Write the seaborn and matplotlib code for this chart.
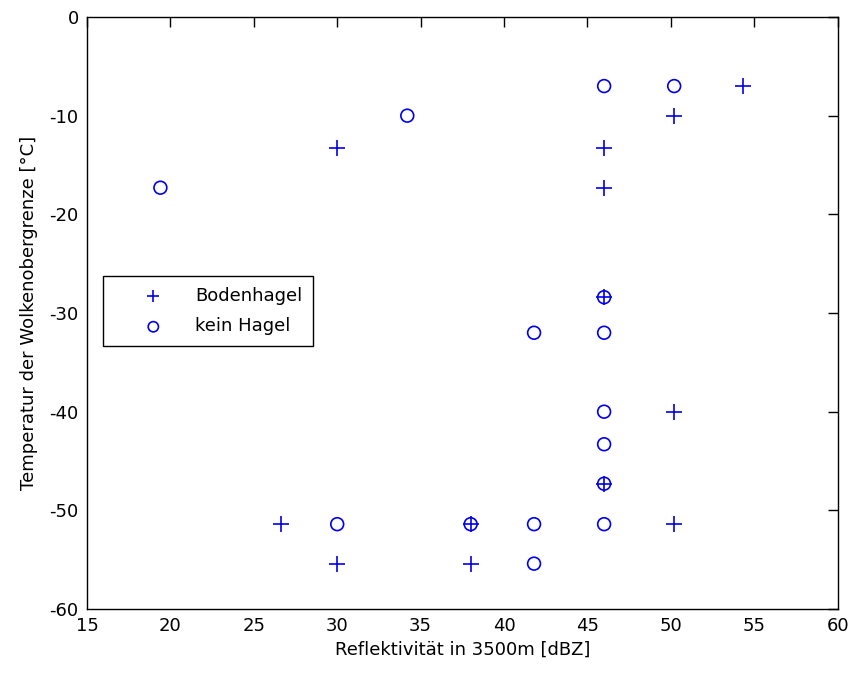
import numpy as np
import pandas as pd
import matplotlib
matplotlib.use("Agg")
import matplotlib.pyplot as plt
import seaborn as sns

# Bodenhagel (plus markers)
hagel_x = [54.3, 50.2, 30.0, 46.0, 46.0, 46.0, 50.2, 46.0, 26.6, 38.0, 50.2, 30.0, 38.0]
hagel_y = [-7.0, -10.0, -13.3, -13.3, -17.3, -28.4, -40.0, -47.3, -51.4, -51.4, -51.4, -55.4, -55.4]

# kein Hagel (circle markers)
kein_x = [46.0, 50.2, 34.2, 19.4, 46.0, 41.8, 46.0, 46.0, 46.0, 46.0, 30.0, 38.0, 41.8, 46.0, 41.8]
kein_y = [-7.0, -7.0, -10.0, -17.3, -28.4, -32.0, -32.0, -40.0, -43.3, -47.3, -51.4, -51.4, -51.4, -51.4, -55.4]

x_ticks = [15, 20, 25, 30, 35, 40, 45, 50, 55, 60]
y_ticks = [-60, -50, -40, -30, -20, -10, 0]

sns.set_style("white")
plt.rcParams['font.family'] = ['DejaVu Sans']
plt.rcParams['axes.unicode_minus'] = False
plt.rcParams['text.color'] = 'black'
plt.rcParams['axes.labelcolor'] = 'black'

blue = "#0000ee"
df_hagel = pd.DataFrame({"x": hagel_x, "y": hagel_y})
df_kein = pd.DataFrame({"x": kein_x, "y": kein_y})

fig = plt.figure(figsize=(8.53, 6.77), dpi=100)
ax = fig.add_axes([0.102, 0.1004, 0.880, 0.8745])

sns.scatterplot(data=df_hagel, x="x", y="y", marker="+", color=blue,
                s=130, linewidth=1.2, label="Bodenhagel", ax=ax, zorder=3)
sns.scatterplot(data=df_kein, x="x", y="y", marker="o", color=blue,
                facecolor="none", edgecolor=blue, s=85, linewidth=1.2,
                label="kein Hagel", ax=ax, zorder=3)

ax.set_xlim(15, 60)
ax.set_ylim(-60, 0)
ax.set_xticks(x_ticks)
ax.set_yticks(y_ticks)
ax.tick_params(direction="in", length=7, width=1, top=True, right=True,
               labelsize=13, colors="black", pad=6)
for sp in ax.spines.values():
    sp.set_visible(True)
    sp.set_color("black")
    sp.set_linewidth(1.0)

ax.set_xlabel("Reflektivität in 3500m [dBZ]", fontsize=13, labelpad=4)
ax.set_ylabel("Temperatur der Wolkenobergrenze [°C]", fontsize=13, labelpad=8)

leg = ax.legend(loc="upper left", bbox_to_anchor=(0.021, 0.5625), borderaxespad=0,
                frameon=True, fancybox=False, edgecolor="black", framealpha=1,
                fontsize=13, markerscale=0.8, handlelength=4.4, handletextpad=0.1,
                labelspacing=0.7, borderpad=0.6)
leg.get_frame().set_linewidth(1.0)

fig.savefig("out.png", dpi=100)
